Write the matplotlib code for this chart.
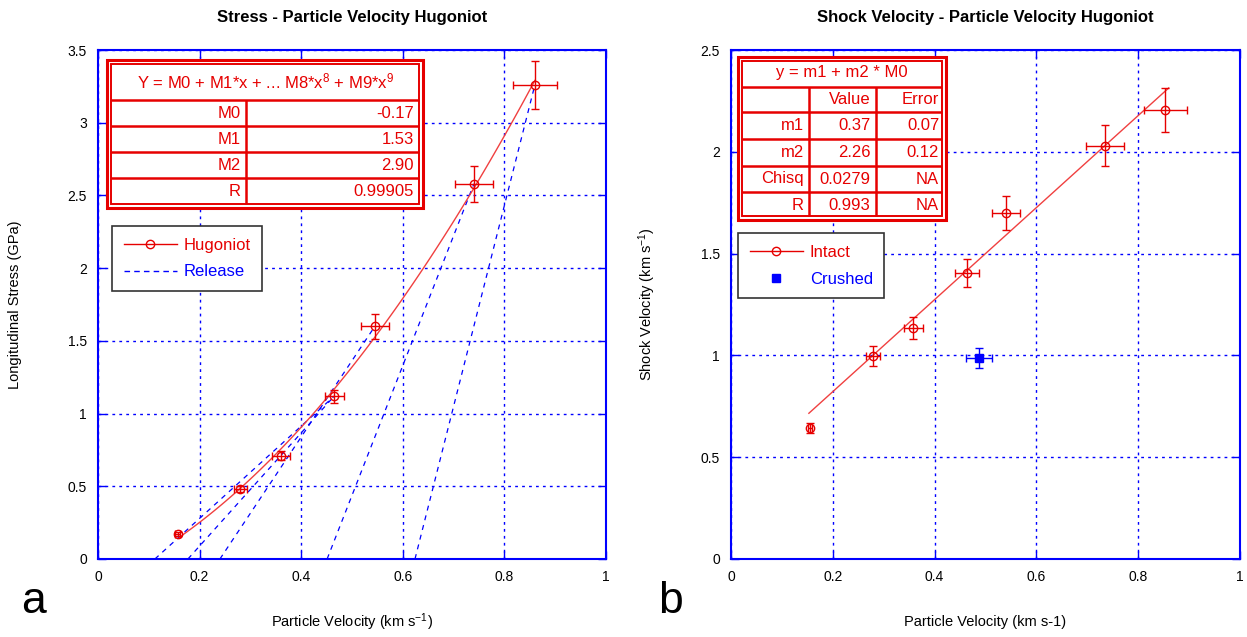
import numpy as np
import matplotlib.pyplot as plt
from matplotlib.patches import Rectangle
from matplotlib.lines import Line2D

plt.rcParams['font.family'] = ['Liberation Sans', 'DejaVu Sans']
plt.rcParams['mathtext.fontset'] = 'custom'
plt.rcParams['mathtext.rm'] = 'Liberation Sans'
plt.rcParams['mathtext.it'] = 'Liberation Sans:italic'
plt.rcParams['mathtext.bf'] = 'Liberation Sans:bold'

RED = '#e60000'
BLUE = '#0000ff'

# --- panel a: stress - particle velocity
u_p = [0.157, 0.28, 0.36, 0.465, 0.545, 0.74, 0.86]
u_p_err = [0.005, 0.013, 0.018, 0.019, 0.028, 0.037, 0.043]
stress = [0.17, 0.48, 0.71, 1.12, 1.60, 2.58, 3.26]
stress_err = [0.015, 0.02, 0.03, 0.045, 0.084, 0.125, 0.165]
fit_M = [-0.17, 1.53, 2.90]   # Y = M0 + M1*x + M2*x^2
fit_a_range = [0.16, 0.86]

# release paths: (u at zero stress) -> (hugoniot state)
release_u0 = [0.112, 0.177, 0.240, 0.451, 0.624]
release_u1 = [0.465, 0.465, 0.545, 0.74, 0.86]
release_s1 = [1.12, 1.12, 1.60, 2.58, 3.26]

table_a_head = 'Y = M0 + M1*x + ... M8*x$^{8}$ + M9*x$^{9}$'
table_a_names = ['M0', 'M1', 'M2', 'R']
table_a_vals = ['-0.17', '1.53', '2.90', '0.99905']

# --- panel b: shock velocity - particle velocity
Us = [0.643, 0.997, 1.135, 1.405, 1.70, 2.03, 2.205]
Us_err = [0.025, 0.05, 0.056, 0.069, 0.085, 0.10, 0.11]
u_p_b = [0.155, 0.279, 0.358, 0.464, 0.540, 0.735, 0.853]
u_p_b_err = [0.004, 0.013, 0.019, 0.024, 0.0275, 0.037, 0.042]
crushed_u = [0.487]
crushed_u_err = [0.025]
crushed_Us = [0.987]
crushed_Us_err = [0.048]
fit_m = [0.37, 2.26]   # y = m1 + m2*x
fit_b_range = [0.153, 0.86]

table_b_head = 'y = m1 + m2 * M0'
table_b_cols = ['', 'Value', 'Error']
table_b_rows = [['m1', '0.37', '0.07'],
                ['m2', '2.26', '0.12'],
                ['Chisq', '0.0279', 'NA'],
                ['R', '0.993', 'NA']]

fig = plt.figure(figsize=(12.47, 6.37), dpi=100)
ax1 = fig.add_axes([98 / 1247, 78 / 637, 508 / 1247, 509 / 637])
ax2 = fig.add_axes([731 / 1247, 78 / 637, 509 / 1247, 509 / 637])


def style_axes(ax, ymax, ystep):
    ax.set_xlim(0, 1)
    ax.set_ylim(0, ymax)
    ax.set_xticks(np.arange(0, 1.01, 0.2))
    ax.set_yticks(np.arange(0, ymax + 0.01, ystep))
    ax.set_xticklabels(['0', '0.2', '0.4', '0.6', '0.8', '1'])
    ax.set_yticklabels(['0' if v == 0 else f'{v:g}' for v in np.arange(0, ymax + 0.01, ystep)])
    ax.grid(True, color=BLUE, linestyle=(0, (2, 3)), lw=1)
    for s in ax.spines.values():
        s.set_color(BLUE)
        s.set_linewidth(1.5)
    ax.tick_params(direction='in', length=6, color=BLUE, width=1,
                   top=True, right=True, labelsize=10, pad=8)


style_axes(ax1, 3.5, 0.5)
style_axes(ax2, 2.5, 0.5)

# panel a
for u0, u1, s1 in zip(release_u0, release_u1, release_s1):
    ax1.plot([u0, u1], [0, s1], color=BLUE, ls=(0, (4, 4)), lw=0.9)
xf = np.linspace(fit_a_range[0], fit_a_range[1], 100)
ax1.plot(xf, fit_M[0] + fit_M[1] * xf + fit_M[2] * xf ** 2, color='#f04040', lw=1)
ax1.errorbar(u_p, stress, xerr=u_p_err, yerr=stress_err, fmt='o', ms=6,
             mfc='none', mec=RED, ecolor=RED, elinewidth=1, capsize=3, mew=1)

# panel b
xf = np.array(fit_b_range)
ax2.plot(xf, fit_m[0] + fit_m[1] * xf, color='#f04040', lw=1)
ax2.errorbar(u_p_b, Us, xerr=u_p_b_err, yerr=Us_err, fmt='o', ms=6,
             mfc='none', mec=RED, ecolor=RED, elinewidth=1, capsize=3, mew=1)
ax2.errorbar(crushed_u, crushed_Us, xerr=crushed_u_err, yerr=crushed_Us_err, fmt='s', ms=6,
             mfc=BLUE, mec=BLUE, ecolor=BLUE, elinewidth=1, capsize=3)

ax1.set_title('Stress - Particle Velocity Hugoniot', fontsize=12, fontweight='bold', pad=20)
ax2.set_title('Shock Velocity - Particle Velocity Hugoniot', fontsize=12, fontweight='bold', pad=20)
ax1.set_xlabel('Particle Velocity (km s$^{-1}$)', fontsize=10.5, va='center')
ax2.set_xlabel('Particle Velocity (km s-1)', fontsize=10.5, va='center')
ax1.set_ylabel('Longitudinal Stress (GPa)', fontsize=10.5, va='center')
ax2.set_ylabel('Shock Velocity (km s$^{-1}$)', fontsize=10.5, va='center')
ax1.xaxis.set_label_coords(0.5, -0.124)
ax2.xaxis.set_label_coords(0.5, -0.124)
ax1.yaxis.set_label_coords(-0.163, 0.5)
ax2.yaxis.set_label_coords(-0.165, 0.5)

fig.text(0.027, 0.056, 'a', fontsize=32, ha='center', va='center')
fig.text(0.538, 0.056, 'b', fontsize=32, ha='center', va='center')


# tables, drawn in pixel positions of the reference
def make_conv(ax, left_px):
    def cx(px):
        return (px - left_px) / 508.5

    def cy(py):
        return (559 - py) / 509
    return cx, cy


def hline(ax, cx, cy, x0, x1, y, lw=1.8):
    ax.plot([cx(x0), cx(x1)], [cy(y), cy(y)], color=RED, lw=lw, transform=ax.transAxes,
            clip_on=False, zorder=6, solid_capstyle='butt')


def vline(ax, cx, cy, x, y0, y1, lw=1.8):
    ax.plot([cx(x), cx(x)], [cy(y0), cy(y1)], color=RED, lw=lw, transform=ax.transAxes,
            clip_on=False, zorder=6, solid_capstyle='butt')


def frame(ax, cx, cy, x0, y0, x1, y1):
    ax.add_patch(Rectangle((cx(x0), cy(y1)), cx(x1) - cx(x0), cy(y0) - cy(y1),
                           transform=ax.transAxes, fc='white', ec=RED, lw=2.2, zorder=5))
    ax.add_patch(Rectangle((cx(x0 + 4), cy(y1 - 4)), cx(x1 - 4) - cx(x0 + 4), cy(y0 + 4) - cy(y1 - 4),
                           transform=ax.transAxes, fc='none', ec=RED, lw=1.4, zorder=6))


FS = 12

# table a
cx, cy = make_conv(ax1, 98)
frame(ax1, cx, cy, 107, 60, 423, 208)
for y in [100, 126, 152, 178]:
    hline(ax1, cx, cy, 111, 419, y)
vline(ax1, cx, cy, 246, 100, 204)
ax1.text(cx(266), cy(81), table_a_head, transform=ax1.transAxes, ha='center', va='center',
         color=RED, fontsize=FS, zorder=7)
for i, (n, v) in enumerate(zip(table_a_names, table_a_vals)):
    yc = 113 + 26 * i
    ax1.text(cx(241), cy(yc), n, transform=ax1.transAxes, ha='right', va='center',
             color=RED, fontsize=FS, zorder=7)
    ax1.text(cx(414), cy(yc), v, transform=ax1.transAxes, ha='right', va='center',
             color=RED, fontsize=FS, zorder=7)

# table b
cx, cy = make_conv(ax2, 731)
frame(ax2, cx, cy, 738, 57, 946, 220)
for y in [87, 112, 139, 166, 192]:
    hline(ax2, cx, cy, 742, 942, y)
vline(ax2, cx, cy, 809, 87, 216)
vline(ax2, cx, cy, 876, 87, 216)
ax2.text(cx(842), cy(72), table_b_head, transform=ax2.transAxes, ha='center', va='center',
         color=RED, fontsize=FS, zorder=7)
rows = [table_b_cols] + table_b_rows
for i, row in enumerate(rows):
    yc = [99.5, 125.5, 152.5, 179, 205][i]
    for txt, xr in zip(row, [804, 870, 939]):
        ax2.text(cx(xr), cy(yc), txt, transform=ax2.transAxes, ha='right', va='center',
                 color=RED, fontsize=FS, zorder=7)

# legends
h_a = [Line2D([], [], color=RED, lw=1, marker='o', mfc='none', mec=RED, ms=6),
       Line2D([], [], color=BLUE, lw=1, ls=(0, (4, 3)))]
leg = ax1.legend(h_a, ['Hugoniot', 'Release'], loc='upper left', bbox_to_anchor=(0.0276, 0.654),
                 fancybox=False, edgecolor='#333333', framealpha=1, fontsize=FS,
                 handlelength=3.2, borderpad=0.7, labelspacing=0.7, borderaxespad=0,
                 handletextpad=0.4)
leg.get_frame().set_linewidth(1.2)
for t, c in zip(leg.get_texts(), [RED, BLUE]):
    t.set_color(c)

h_b = [Line2D([], [], color=RED, lw=1, marker='o', mfc='none', mec=RED, ms=6),
       Line2D([], [], ls='none', marker='s', mfc=BLUE, mec=BLUE, ms=6)]
leg = ax2.legend(h_b, ['Intact', 'Crushed'], loc='upper left', bbox_to_anchor=(0.0138, 0.640),
                 fancybox=False, edgecolor='#333333', framealpha=1, fontsize=FS,
                 handlelength=3.2, borderpad=0.7, labelspacing=0.7, borderaxespad=0,
                 handletextpad=0.4)
leg.get_frame().set_linewidth(1.2)
for t, c in zip(leg.get_texts(), [RED, BLUE]):
    t.set_color(c)

fig.savefig('out.png', dpi=100)
